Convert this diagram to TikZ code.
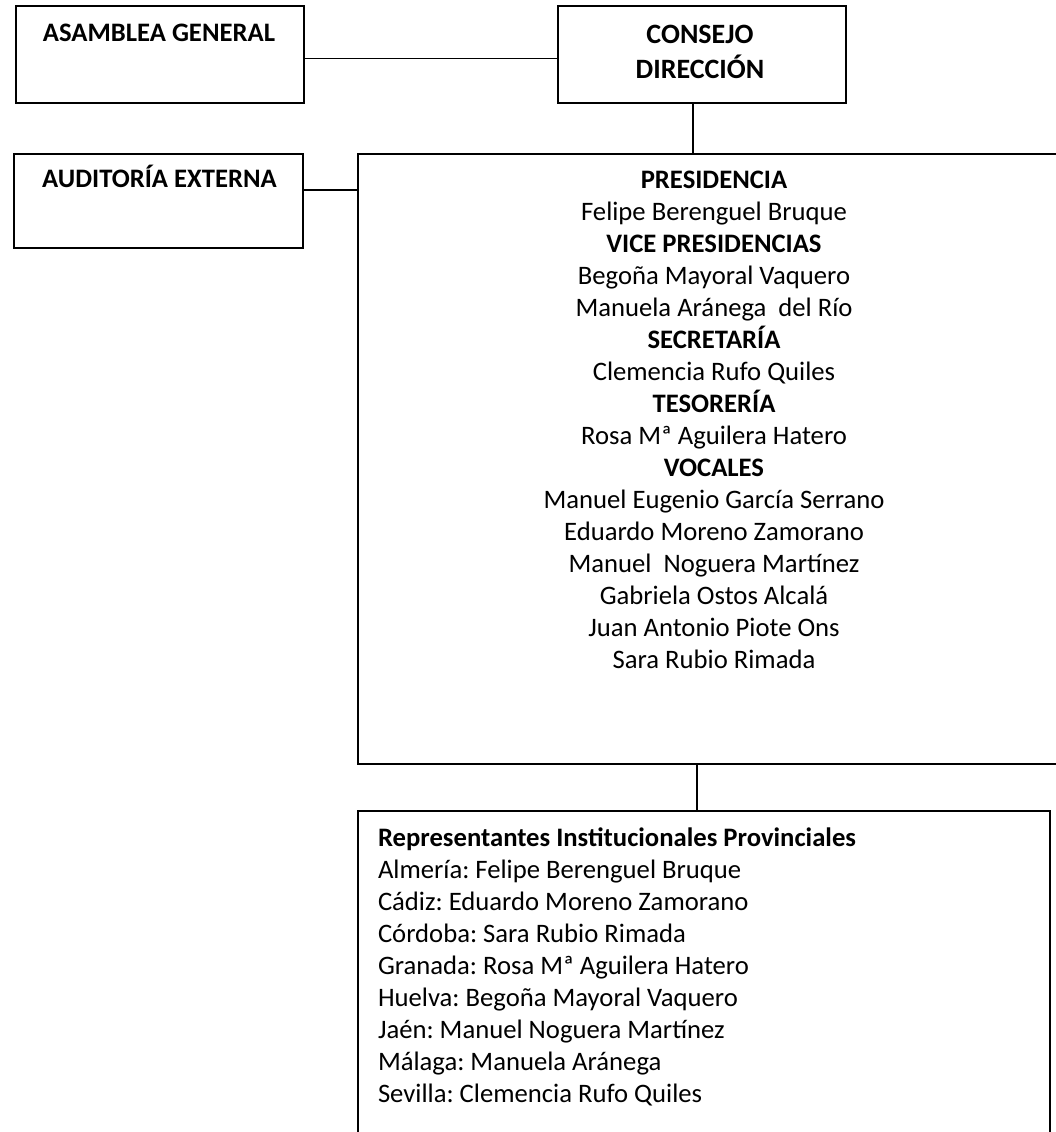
\documentclass[tikz,border=0pt]{standalone}
\usepackage{fontspec}
\setmainfont{Carlito}
\frenchspacing
\usetikzlibrary{positioning}

\tikzset{every picture/.style={line width=1.5pt}}
\tikzset{
  caja/.style={draw, rectangle, inner sep=0pt, anchor=north west},
  texto/.style={inner sep=0pt, anchor=base, align=center, font=\fontsize{20}{24}\selectfont},
  linea/.style={line width=1.1pt}
}

\begin{document}
\begin{tikzpicture}[x=0.75pt,y=0.75pt,yscale=-1,xscale=1]
\useasboundingbox (0,0) rectangle (1056,1132);
\clip (0,0) rectangle (1056,1132);

% Cajas
\node (asamblea) [caja, minimum width=288*0.75pt, minimum height=97*0.75pt] at (15,5) {};
\node (consejo) [caja, minimum width=288*0.75pt, minimum height=97*0.75pt] at (557,5) {};
\node (auditoria) [caja, minimum width=289*0.75pt, minimum height=94*0.75pt] at (13,153) {};
\node (junta) [caja, minimum width=714*0.75pt, minimum height=610*0.75pt] at (357,153) {};
\node (provincias) [caja, minimum width=692*0.75pt, minimum height=400*0.75pt] at (357,810) {};

% Text Node (anclado en la linea base de la ultima linea)
\node (tasamblea) [texto] at (159,41) {\textbf{ASAMBLEA GENERAL}};
% Text Node
\node (tconsejo) [texto, font=\fontsize{21}{26.25}\selectfont] at (700,78) {\textbf{CONSEJO}\\\textbf{DIRECCIÓN}};
% Text Node
\node (tauditoria) [texto] at (159.5,187) {\textbf{AUDITORÍA EXTERNA}};
% Text Node
\node (tjunta) [texto] at (714,668) {\textbf{PRESIDENCIA}\\
  Felipe Berenguel Bruque\\
  \textbf{VICE PRESIDENCIAS}\\
  Begoña Mayoral Vaquero\\
  Manuela Aránega\ \ del Río\\
  \textbf{SECRETARÍA}\\
  Clemencia Rufo Quiles\\
  \textbf{TESORERÍA}\\
  Rosa Mª Aguilera Hatero\\
  \textbf{VOCALES}\\
  Manuel Eugenio García Serrano\\
  Eduardo Moreno Zamorano\\
  Manuel\ \ Noguera Martínez\\
  Gabriela Ostos Alcalá\\
  Juan Antonio Piote Ons\\
  Sara Rubio Rimada};
% Text Node
\node (tprovincias) [texto, align=left, anchor=base west] at (377,1102) {\textbf{Representantes Institucionales Provinciales}\\
  Almería: Felipe Berenguel Bruque\\
  Cádiz: Eduardo Moreno Zamorano\\
  Córdoba: Sara Rubio Rimada\\
  Granada: Rosa Mª Aguilera Hatero\\
  Huelva: Begoña Mayoral Vaquero\\
  Jaén: Manuel Noguera Martínez\\
  Málaga: Manuela Aránega\\
  Sevilla: Clemencia Rufo Quiles};

% Conectores
\draw [linea] ([yshift=3pt]asamblea.east) -- ([yshift=3pt]consejo.west);
\draw [linea] ([yshift=-8.25pt]auditoria.east) -- ([yshift=-8.25pt]auditoria.east -| junta.west);
\draw [linea] ([xshift=-6.75pt]consejo.south) -- ([xshift=-6.75pt]consejo.south |- junta.north);
\draw [linea] ([xshift=-13.5pt]junta.south) -- ([xshift=-13.5pt]junta.south |- provincias.north);

\end{tikzpicture}
\end{document}
